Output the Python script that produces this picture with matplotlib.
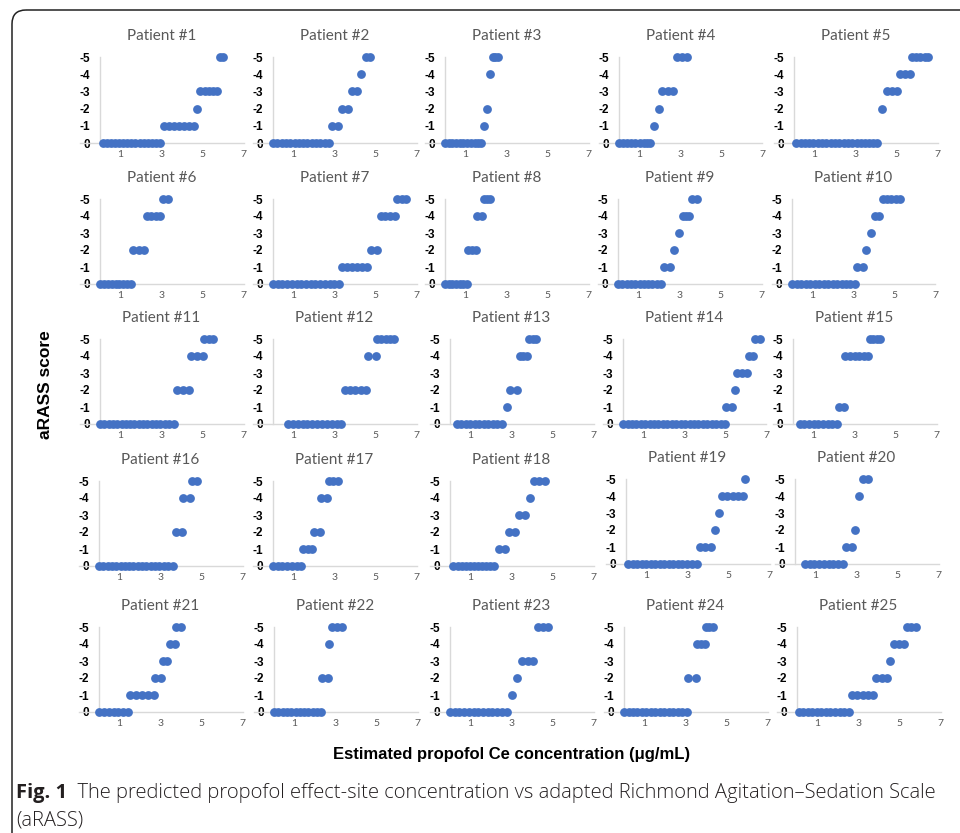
import matplotlib
matplotlib.use("Agg")
import matplotlib.pyplot as plt
from matplotlib.patches import FancyBboxPatch

# aRASS level -> estimated Ce values (ug/mL), one dict per patient
p01 = {0: [0.13, 0.33, 0.53, 0.73, 0.93, 1.13, 1.33, 1.53, 1.73, 1.93, 2.13, 2.33, 2.53, 2.73, 2.94],
       -1: [3.13, 3.37, 3.61, 3.85, 4.09, 4.33, 4.57], -2: [4.73],
       -3: [4.90, 5.10, 5.30, 5.50, 5.70], -5: [5.84, 6.00]}
p02 = {0: [0.00, 0.21, 0.42, 0.63, 0.84, 1.05, 1.26, 1.47, 1.68, 1.89, 2.10, 2.31, 2.52, 2.73],
       -1: [2.89, 3.16], -2: [3.38, 3.65], -3: [3.87, 4.08], -4: [4.31], -5: [4.52, 4.73]}
p03 = {0: [0.00, 0.18, 0.36, 0.54, 0.72, 0.90, 1.08, 1.26, 1.44, 1.62, 1.77],
       -1: [1.89], -2: [2.05], -4: [2.21], -5: [2.33, 2.45, 2.57]}
p04 = {0: [0.00, 0.20, 0.40, 0.60, 0.80, 1.00, 1.20, 1.35, 1.50],
       -1: [1.70], -2: [1.95], -3: [2.11, 2.37, 2.62], -5: [2.82, 3.06, 3.31]}
p05 = {0: [0.11, 0.32, 0.53, 0.74, 0.95, 1.16, 1.37, 1.58, 1.79, 2.00, 2.21, 2.42, 2.63, 2.84,
           3.05, 3.26, 3.47, 3.68, 3.87, 4.06],
       -2: [4.27], -3: [4.52, 4.76, 5.01], -4: [5.17, 5.41, 5.66], -5: [5.77, 5.97, 6.17, 6.37, 6.56]}
p06 = {0: [0.00, 0.19, 0.38, 0.57, 0.76, 0.95, 1.14, 1.33, 1.52],
       -2: [1.63, 1.89, 2.15], -4: [2.28, 2.50, 2.72, 2.94], -5: [3.07, 3.34]}
p07 = {0: [0.00, 0.23, 0.46, 0.69, 0.92, 1.15, 1.38, 1.61, 1.84, 2.07, 2.30, 2.53, 2.76, 2.99, 3.21],
       -1: [3.38, 3.62, 3.86, 4.11, 4.35, 4.60], -2: [4.76, 5.09],
       -4: [5.25, 5.48, 5.71, 5.95], -5: [6.07, 6.27, 6.48]}
p08 = {0: [0.00, 0.18, 0.36, 0.54, 0.72, 0.90, 1.07],
       -2: [1.14, 1.33, 1.52], -4: [1.58, 1.80], -5: [1.88, 2.04, 2.21]}
p09 = {0: [0.00, 0.21, 0.42, 0.63, 0.84, 1.05, 1.26, 1.47, 1.68, 1.89, 2.10],
       -1: [2.26, 2.54], -2: [2.74], -3: [2.98], -4: [3.16, 3.30, 3.44], -5: [3.60, 3.85]}
p10 = {0: [0.00, 0.22, 0.44, 0.66, 0.88, 1.10, 1.32, 1.54, 1.76, 1.98, 2.20, 2.42, 2.64, 2.85, 3.05],
       -1: [3.16, 3.44], -2: [3.62], -3: [3.85], -4: [4.07, 4.26],
       -5: [4.44, 4.65, 4.85, 5.05, 5.26]}
p11 = {0: [0.00, 0.21, 0.42, 0.63, 0.84, 1.05, 1.26, 1.47, 1.68, 1.89, 2.10, 2.31, 2.52, 2.73,
           2.94, 3.15, 3.38, 3.62],
       -2: [3.78, 4.07, 4.36], -4: [4.44, 4.72, 5.01], -5: [5.09, 5.30, 5.51]}
p12 = {0: [0.72, 0.96, 1.20, 1.44, 1.68, 1.92, 2.16, 2.40, 2.64, 2.88, 3.10, 3.33],
       -2: [3.49, 3.76, 4.02, 4.29, 4.55], -4: [4.65, 5.01], -5: [5.09, 5.29, 5.49, 5.70, 5.90]}
p13 = {0: [0.33, 0.55, 0.77, 0.99, 1.21, 1.43, 1.65, 1.87, 2.09, 2.31, 2.55],
       -1: [2.78], -2: [2.95, 3.25], -4: [3.42, 3.58, 3.75], -5: [3.87, 4.03, 4.20]}
p14 = {0: [0.00, 0.22, 0.43, 0.65, 0.87, 1.08, 1.30, 1.52, 1.73, 1.95, 2.17, 2.38, 2.60, 2.82,
           3.03, 3.25, 3.47, 3.68, 3.90, 4.12, 4.33, 4.55, 4.77, 4.98],
       -1: [5.04, 5.33], -2: [5.45], -3: [5.58, 5.82, 6.07], -4: [6.13, 6.36], -5: [6.43, 6.69]}
p15 = {0: [0.33, 0.56, 0.78, 1.01, 1.24, 1.47, 1.69, 1.92, 2.15],
       -1: [2.23, 2.48], -4: [2.56, 2.78, 3.00, 3.22, 3.45, 3.67], -5: [3.75, 3.91, 4.08, 4.24]}
p16 = {0: [0.00, 0.21, 0.42, 0.63, 0.84, 1.05, 1.26, 1.47, 1.68, 1.89, 2.10, 2.31, 2.52, 2.73,
           2.94, 3.15, 3.37, 3.59],
       -2: [3.74, 4.03], -4: [4.11, 4.44], -5: [4.52, 4.76]}
p17 = {0: [0.00, 0.23, 0.46, 0.69, 0.92, 1.15, 1.39],
       -1: [1.47, 1.69, 1.91], -2: [2.02, 2.28], -4: [2.35, 2.61], -5: [2.72, 2.94, 3.16]}
p18 = {0: [0.17, 0.37, 0.57, 0.77, 0.97, 1.17, 1.37, 1.57, 1.77, 1.97, 2.17],
       -1: [2.37, 2.70], -2: [2.87, 3.17], -3: [3.37, 3.67], -4: [3.88], -5: [4.08, 4.35, 4.62]}
p19 = {0: [0.10, 0.32, 0.54, 0.76, 0.98, 1.20, 1.42, 1.64, 1.86, 2.08, 2.30, 2.52, 2.74, 2.96,
           3.20, 3.44],
       -1: [3.60, 3.87, 4.13], -2: [4.32], -3: [4.55], -4: [4.70, 4.95, 5.20, 5.46, 5.71],
       -5: [5.81]}
p20 = {0: [0.49, 0.72, 0.95, 1.18, 1.41, 1.64, 1.87, 2.10, 2.33],
       -1: [2.48, 2.77], -2: [2.94], -4: [3.13], -5: [3.30, 3.54]}
p21 = {0: [0.00, 0.24, 0.47, 0.71, 0.94, 1.18, 1.41],
       -1: [1.52, 1.81, 2.10, 2.38, 2.67], -2: [2.75, 3.00], -3: [3.10, 3.34],
       -4: [3.46, 3.69], -5: [3.77, 4.02]}
p22 = {0: [0.00, 0.21, 0.42, 0.63, 0.84, 1.05, 1.26, 1.47, 1.68, 1.89, 2.10, 2.30],
       -2: [2.34, 2.62], -4: [2.70], -5: [2.84, 3.08, 3.33]}
p23 = {0: [0.00, 0.23, 0.46, 0.69, 0.92, 1.15, 1.38, 1.61, 1.84, 2.07, 2.30, 2.53, 2.77],
       -1: [3.00], -2: [3.25], -3: [3.52, 3.80, 4.07], -5: [4.27, 4.53, 4.79]}
p24 = {0: [0.00, 0.22, 0.44, 0.65, 0.87, 1.09, 1.31, 1.52, 1.74, 1.96, 2.18, 2.40, 2.61, 2.83, 3.05],
       -2: [3.13, 3.50], -4: [3.58, 3.76, 3.94], -5: [3.98, 4.16, 4.35]}
p25 = {0: [0.08, 0.30, 0.52, 0.75, 0.97, 1.19, 1.41, 1.63, 1.86, 2.08, 2.30, 2.53],
       -1: [2.69, 2.95, 3.20, 3.46, 3.71], -2: [3.87, 4.13, 4.39], -3: [4.56],
       -4: [4.71, 4.98, 5.24], -5: [5.35, 5.58, 5.81]}

patients = [p01, p02, p03, p04, p05, p06, p07, p08, p09, p10, p11, p12, p13,
            p14, p15, p16, p17, p18, p19, p20, p21, p22, p23, p24, p25]
titles = [f"Patient #{i}" for i in range(1, 26)]
y_ticks = [0, -1, -2, -3, -4, -5]
y_labels = ["0", "-1", "-2", "-3", "-4", "-5"]
x_ticks = [1, 3, 5, 7]

DOT = "#4472C4"
AXIS = "#D9D9D9"
GREY_TXT = "#595959"
W, H = 960, 833

# pixel layout: y-axis position (x=0) per panel, and top(-5)/bottom(0) per row
col_x0 = [
    [100, 273, 445, 619, 794],
    [100, 273, 445, 618, 792],
    [100, 273, 450, 623, 793],
    [99, 273, 450, 626, 795],
    [99, 274, 450, 624, 797],
]
row_top = [[57] * 5, [199] * 5, [339] * 5, [481, 481, 481, 479, 479], [627] * 5]
row_bot = [[143] * 5, [284] * 5, [424] * 5, [566, 566, 566, 564, 564], [712] * 5]
UNIT = 20.5  # px per ug/mL

fig = plt.figure(figsize=(W / 100, H / 100), dpi=100)
fig.patch.set_facecolor("white")

bg = fig.add_axes([0, 0, 1, 1])
bg.set_xlim(0, W)
bg.set_ylim(H, 0)
bg.axis("off")
bg.add_patch(FancyBboxPatch((12, 10), 1000, 900, boxstyle="round,pad=0,rounding_size=14",
                            fc="none", ec="#222222", lw=1.1))

for i, (data, title) in enumerate(zip(patients, titles)):
    r, c = divmod(i, 5)
    x0 = col_x0[r][c]
    left = x0 - UNIT
    right = x0 + 7 * UNIT
    top, bot = row_top[r][c], row_bot[r][c]
    ax = fig.add_axes([left / W, 1 - bot / H, (right - left) / W, (bot - top) / H])
    for level, xs in data.items():
        ax.scatter(xs, [level] * len(xs), s=40, color=DOT, lw=0, clip_on=False, zorder=3)
    ax.set_xlim(-1, 7)
    ax.set_ylim(0, -5)
    ax.set_facecolor("none")
    ax.spines["top"].set_visible(False)
    ax.spines["right"].set_visible(False)
    ax.spines["left"].set_position(("data", 0))
    for s in ("left", "bottom"):
        ax.spines[s].set_color(AXIS)
        ax.spines[s].set_linewidth(1.0)
    ax.set_yticks(y_ticks)
    ax.set_yticklabels(y_labels, fontfamily="Liberation Sans", fontweight="bold", fontsize=8.5)
    ax.set_xticks(x_ticks)
    ax.set_xticklabels([str(t) for t in x_ticks], fontfamily="Lato", fontsize=7.5, color=GREY_TXT)
    ax.tick_params(axis="y", length=0, pad=7)
    ax.tick_params(axis="x", length=0, pad=5)
    ax.set_title(title, fontfamily="Lato", fontsize=11, color=GREY_TXT, pad=12)

bg.text(45, 385, "aRASS score", rotation=90, ha="center", va="center",
        fontfamily="Liberation Sans", fontweight="bold", fontsize=12.5)
bg.text(512, 755, "Estimated propofol Ce concentration (\u03bcg/mL)", ha="center", va="center",
        fontfamily="Liberation Sans", fontweight="bold", fontsize=12)

cap = bg.text(16, 793, "Fig. 1", ha="left", va="center", fontfamily="Open Sans",
              fontweight="bold", fontsize=14.5, color="#231F20")
bg.annotate("  The predicted propofol effect-site concentration vs adapted Richmond "
            "Agitation\u2013Sedation Scale", xy=(1, 0), xycoords=cap, ha="left", va="bottom",
            fontfamily="Open Sans", fontweight="light", fontsize=14.5, color="#231F20")
bg.text(16, 821, "(aRASS)", ha="left", va="center", fontfamily="Open Sans",
        fontweight="light", fontsize=14.5, color="#231F20")

fig.savefig("out.png", dpi=100, facecolor="white")
